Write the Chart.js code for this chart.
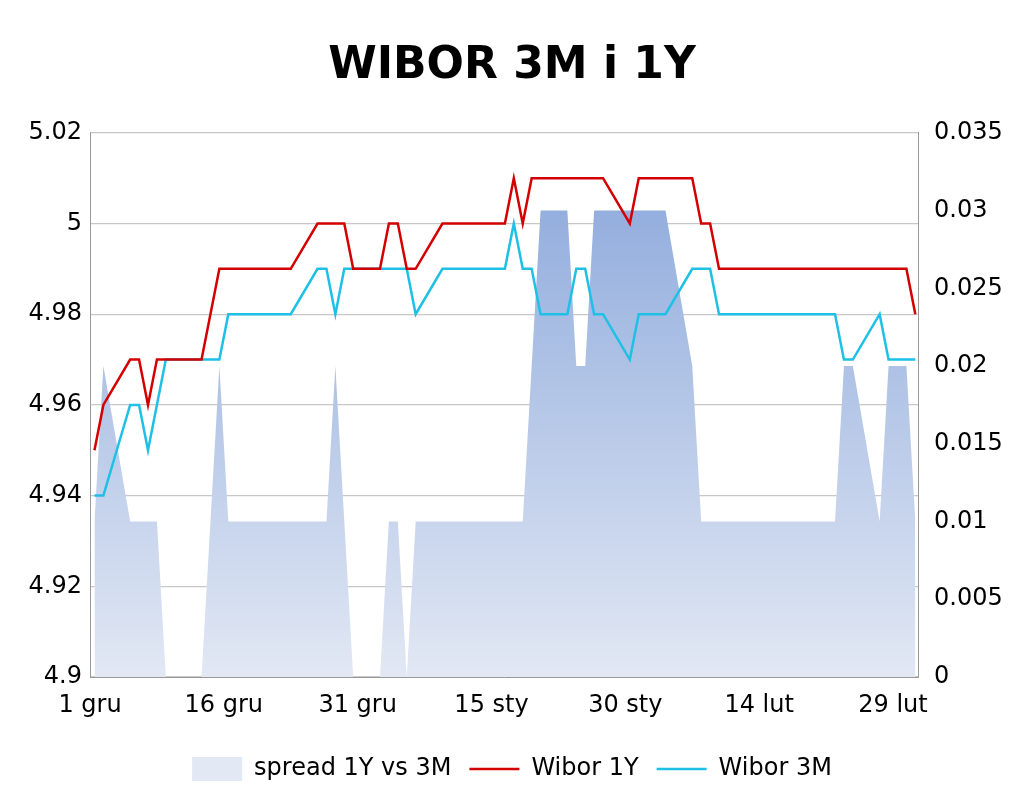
<!DOCTYPE html>
<html><head><meta charset="utf-8">
<script src="https://cdn.jsdelivr.net/npm/chart.js@4"></script>
<style>html,body{margin:0;padding:0;background:#fff}#w{width:1024px;height:791px}</style>
</head><body><div id="w"><canvas id="c"></canvas></div>
<script>
const tickDays = [0, 15, 30, 45, 60, 75, 90];
const tickLabels = ['1 gru', '16 gru', '31 gru', '15 sty', '30 sty', '14 lut', '29 lut'];

const wibor1yDays = [0,1,4,5,6,7,12,14,22,25,28,29,32,33,34,35,36,39,46,47,48,49,57,60,61,67,68,69,70,91,92];
const wibor1yVals = [4.95,4.96,4.97,4.97,4.96,4.97,4.97,4.99,4.99,5.00,5.00,4.99,4.99,5.00,5.00,4.99,4.99,5.00,5.00,5.01,5.00,5.01,5.01,5.00,5.01,5.01,5.00,5.00,4.99,4.99,4.98];

const wibor3mDays = [0,1,4,5,6,8,14,15,22,25,26,27,28,35,36,39,46,47,48,49,50,53,54,55,56,57,60,61,64,67,69,70,83,84,85,88,89,92];
const wibor3mVals = [4.94,4.94,4.96,4.96,4.95,4.97,4.97,4.98,4.98,4.99,4.99,4.98,4.99,4.99,4.98,4.99,4.99,5.00,4.99,4.99,4.98,4.98,4.99,4.99,4.98,4.98,4.97,4.98,4.98,4.99,4.99,4.98,4.98,4.97,4.97,4.98,4.97,4.97];

const spreadDays = [0,1,4,7,8,12,14,15,26,27,29,32,33,34,35,36,48,50,53,54,55,56,64,67,68,83,84,85,88,89,91,92];
const spreadVals = [0.01,0.02,0.01,0.01,0,0,0.02,0.01,0.01,0.02,0,0,0.01,0.01,0,0.01,0.01,0.03,0.03,0.02,0.02,0.03,0.03,0.02,0.01,0.01,0.02,0.02,0.01,0.02,0.02,0.01];

const pts = (d, v) => d.map((x, i) => ({x: x, y: v[i]}));
const F = 'DejaVu Sans';

new Chart(document.getElementById('c'), {
  type: 'line',
  data: {datasets: [
    {label: 'spread 1Y vs 3M', data: pts(spreadDays, spreadVals), yAxisID: 'y2', order: 3,
     borderWidth: 0, pointRadius: 0, fill: 'origin', pointStyle: 'rect',
     backgroundColor: (ctx) => {
       const a = ctx.chart.chartArea; if (!a) return '#b8c8e8';
       const g = ctx.chart.ctx.createLinearGradient(0, a.top, 0, a.bottom);
       g.addColorStop(0, '#87a5da'); g.addColorStop(1, '#e2e8f4'); return g;
     }},
    {label: 'Wibor 1Y', data: pts(wibor1yDays, wibor1yVals), yAxisID: 'y', order: 1,
     borderColor: '#d40000', borderWidth: 2.5, pointRadius: 0, fill: false, pointStyle: 'line', backgroundColor: '#d40000'},
    {label: 'Wibor 3M', data: pts(wibor3mDays, wibor3mVals), yAxisID: 'y', order: 2,
     borderColor: '#1ec0e6', borderWidth: 2.5, pointRadius: 0, fill: false, pointStyle: 'line', backgroundColor: '#1ec0e6'}
  ]},
  options: {
    responsive: true, maintainAspectRatio: false, animation: false,
    layout: {padding: {top: 0, bottom: 0, left: 0, right: 0}},
    plugins: {
      title: {display: true, text: 'WIBOR 3M i 1Y', color: '#000', font: {family: F, size: 44, weight: 'bold'}, padding: {top: 40, bottom: 40}},
      legend: {position: 'bottom', labels: {usePointStyle: true, pointStyleWidth: 50, color: '#000', font: {family: F, size: 24}, padding: 18, boxHeight: 24,
        sort: (a, b) => a.datasetIndex - b.datasetIndex}},
      tooltip: {enabled: false}
    },
    scales: {
      x: {type: 'linear', min: -0.5, max: 92.3,
        afterBuildTicks: (s) => { s.ticks = tickDays.map(v => ({value: v - 0.5})); },
        ticks: {autoSkip: false, maxRotation: 0, color: '#000', font: {family: F, size: 24}, padding: 6,
          callback: (v, i) => tickLabels[i]},
        grid: {display: false, drawTicks: true, tickLength: 8, color: '#999'},
        border: {color: '#999'},
        afterFit: (s) => { s.height = 62; }},
      y: {position: 'left', min: 4.9, max: 5.02,
        ticks: {stepSize: 0.02, color: '#000', font: {family: F, size: 24}, padding: 8, callback: v => +v.toFixed(2)},
        grid: {color: '#c8c8c8', lineWidth: 1.2, drawTicks: false}, border: {color: '#999'},
        afterFit: (s) => { s.width = 90; }},
      y2: {position: 'right', min: 0, max: 0.035,
        ticks: {stepSize: 0.005, color: '#000', font: {family: F, size: 24}, padding: 10, callback: v => +v.toFixed(3)},
        grid: {display: false, drawTicks: true, tickLength: 6, color: '#999'}, border: {color: '#999'},
        afterFit: (s) => { s.width = 106; }}
    }
  }
});
</script></body></html>
